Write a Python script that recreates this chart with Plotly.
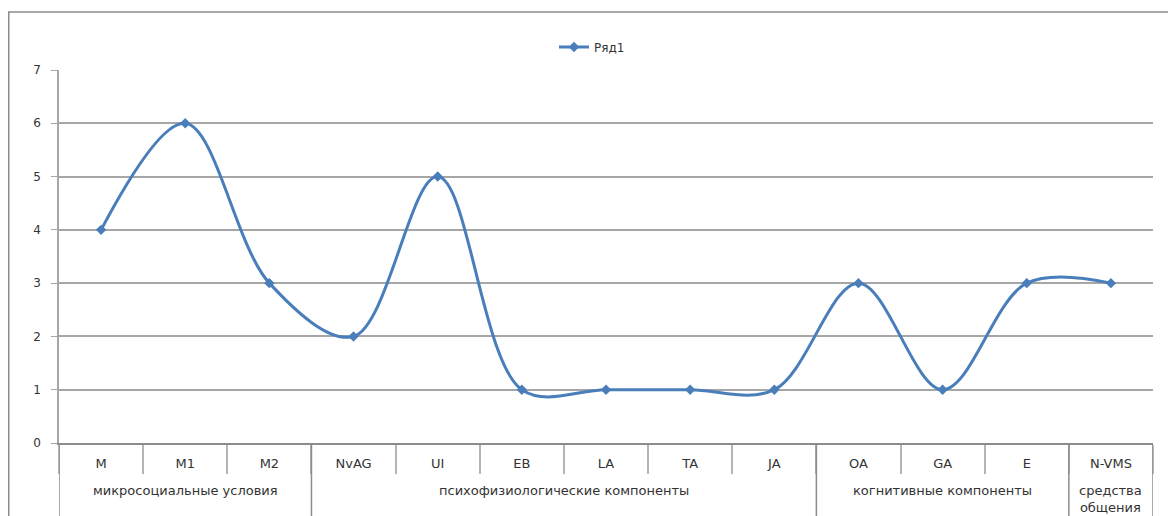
import plotly.graph_objects as go

categories = ["M", "M1", "M2", "NvAG", "UI", "EB", "LA", "TA", "JA", "OA", "GA", "E", "N-VMS"]
values = [4, 6, 3, 2, 5, 1, 1, 1, 1, 3, 1, 3, 3]
group_names = ["микросоциальные условия", "психофизиологические компоненты",
               "когнитивные компоненты", "средства<br>общения"]
group_sizes = [3, 6, 3, 1]
series_name = "Ряд1"

# The page body adds an 8px margin, so the figure is laid out 8px up/left of screen positions
OFF = 8
W, H = 1176 - OFF, 516 - OFF
L, R, T, B = 59 - OFF, 1153 - OFF, 70 - OFF, 443 - OFF
pw, ph = R - L, B - T


def px(x):
    return (x - OFF - L) / pw


def py(y):
    return (B - (y - OFF)) / ph


fig = go.Figure()
fig.add_trace(go.Scatter(
    x=categories, y=values, name=series_name,
    mode="lines+markers",
    line=dict(color="#4A7EBB", width=3, shape="spline", smoothing=1),
    marker=dict(symbol="diamond", size=8, color="#4A7EBB"),
    showlegend=True,
))

# outer chart frame (cut off at right/bottom as in the reference)
fig.add_shape(type="rect", xref="paper", yref="paper",
              x0=px(8.75), x1=px(1300), y0=py(700), y1=py(12),
              line=dict(color="#8c8c8c", width=1.5), layer="below")

# group dividers and group labels
label_font = dict(family="DejaVu Sans, sans-serif", size=13, color="#333333")
start = 0
bounds = [-0.5]
for name, n in zip(group_names, group_sizes):
    center = start + (n - 1) / 2
    fig.add_annotation(x=center, xref="x", y=py(481), yref="paper", text=name,
                       showarrow=False, yanchor="top", xanchor="center", font=label_font,
                       align="center")
    start += n
    bounds.append(start - 0.5)
for bx in bounds:
    fig.add_shape(type="line", xref="x", yref="paper", x0=bx, x1=bx, y0=0, y1=py(700),
                  line=dict(color="#8c8c8c", width=1.5))

fig.update_layout(
    width=W, height=H,
    margin=dict(l=L, r=W - R, t=T, b=H - B),
    paper_bgcolor="white", plot_bgcolor="white",
    font=label_font,
    showlegend=True,
    legend=dict(orientation="h", x=px(592), y=py(47), xanchor="center", yanchor="middle",
                font=dict(family="DejaVu Sans, sans-serif", size=12, color="#333333"),
                bgcolor="rgba(0,0,0,0)"),
    xaxis=dict(type="category", range=[-0.5, len(categories) - 0.5], autorange=False,
               automargin=False, showgrid=False, showline=True, linecolor="#8c8c8c", linewidth=1.5,
               ticks="outside", tickson="boundaries", ticklen=29, tickcolor="#b5b5b5", tickwidth=1.5,
               ticklabelstandoff=8, tickfont=label_font, fixedrange=True),
    yaxis=dict(range=[0, 7], dtick=1, showgrid=True, gridcolor="#a6a6a6", gridwidth=1.5,
               automargin=False,
               showline=True, linecolor="#a6a6a6", linewidth=1.5, ticks="outside", ticklen=6,
               tickcolor="#a6a6a6", zeroline=False,
               tickfont=dict(family="DejaVu Sans, sans-serif", size=12, color="#333333"),
               ticklabelstandoff=8, fixedrange=True),
)

fig.write_html("out.html")
